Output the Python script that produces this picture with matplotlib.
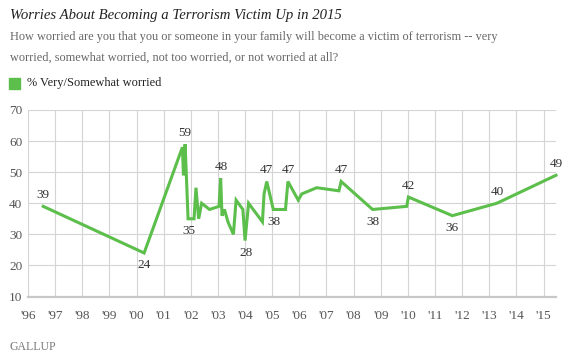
import matplotlib
matplotlib.use("Agg")
import matplotlib.pyplot as plt

W, H = 563, 358
DPI = 100

# data (decimal year, % very/somewhat worried)
years = [1996.56, 2000.28, 2001.69, 2001.73, 2001.79, 2001.90, 2002.12, 2002.19,
         2002.29, 2002.40, 2002.69, 2003.04, 2003.10, 2003.15, 2003.24, 2003.37,
         2003.57, 2003.67, 2003.92, 2004.00, 2004.13, 2004.64, 2004.70, 2004.80,
         2005.04, 2005.49, 2005.58, 2005.96, 2006.09, 2006.64, 2007.46, 2007.54,
         2008.70, 2009.96, 2010.02, 2011.64, 2013.28, 2015.46]
values = [39, 24, 58, 49, 59, 35, 35, 45,
          35, 40, 38, 39, 48, 36, 38, 34,
          30, 41, 38, 28, 40, 34, 43, 47,
          38, 38, 47, 41, 43, 45, 44, 47,
          38, 39, 42, 36, 40, 49]

# labelled points: (index, position 'above'/'below')
label_idx = [0, 1, 4, 6, 12, 19, 23, 24, 26, 31, 32, 34, 35, 36, 37]
label_pos = ['a', 'b', 'a', 'b', 'a', 'b', 'a', 'b', 'a', 'a', 'b', 'a', 'b', 'a', 'a']
label_dx = [0, 0, 0, -5, 1, 1, 0, 1, 0, 0, 0, 0, 0, 1, 0]

xtick_years = list(range(1996, 2016))
xtick_labels = ["'" + str(y)[2:] for y in xtick_years]
yticks = [10, 20, 30, 40, 50, 60, 70]

title = "Worries About Becoming a Terrorism Victim Up in 2015"
subtitle = ("How worried are you that you or someone in your family will become a victim of terrorism -- very\n"
            "worried, somewhat worried, not too worried, or not worried at all?")
legend_label = "% Very/Somewhat worried"

GREEN = "#5cbf4b"
SERIF = ["Liberation Serif", "DejaVu Serif"]

fig = plt.figure(figsize=(W / DPI, H / DPI), dpi=DPI)
fig.patch.set_facecolor("white")

l, r, t, b = 28, 556, 110, 296.5
ax = fig.add_axes([l / W, (H - b) / H, (r - l) / W, (b - t) / H])
ax.set_xlim(1996, 2015.46)
ax.set_ylim(10, 70)
ax.set_yticks(yticks)
ax.set_xticks(xtick_years)
ax.set_xticklabels(xtick_labels)
ax.grid(True, color="#d4d4d4", linewidth=0.8)
ax.set_axisbelow(True)
for s in ["top", "right", "left"]:
    ax.spines[s].set_visible(False)
ax.spines["bottom"].set_color("#c8c8c8")
ax.spines["bottom"].set_linewidth(1.6)
ax.tick_params(length=0, labelsize=9.5, colors="#555555", pad=4)
ax.tick_params(axis="x", pad=10)
for lab in ax.get_xticklabels() + ax.get_yticklabels():
    lab.set_family(SERIF)

ax.plot(years, values, color=GREEN, linewidth=2.2, solid_joinstyle="miter", clip_on=False, zorder=3)

for i, p, dx in zip(label_idx, label_pos, label_dx):
    off = 8.3 if p == 'a' else -8.8
    ax.annotate(str(values[i]), (years[i], values[i]), xytext=(dx * 0.72, off),
                textcoords="offset points", ha="center", va="center",
                fontsize=9.5, color="#333333", family=SERIF, zorder=4)

fig.text(10 / W, 1 - 19.5 / H, title, fontsize=10.6, style="italic", color="#222222",
         family=SERIF, va="baseline")
fig.text(10 / W, 1 - 31 / H, subtitle, fontsize=8.8, color="#666666",
         family=SERIF, va="top", linespacing=1.95)
fig.patches.append(plt.Rectangle((9 / W, 1 - 89 / H), 11 / W, 11 / H,
                                 transform=fig.transFigure, color=GREEN))
fig.text(27 / W, 1 - 83 / H, legend_label, fontsize=8.9, color="#222222",
         family=SERIF, va="center")
fig.text(10 / W, 1 - 350 / H, "GALLUP", fontsize=8.5, color="#777777",
         family=SERIF, va="baseline")

fig.savefig("out.png", dpi=DPI)
